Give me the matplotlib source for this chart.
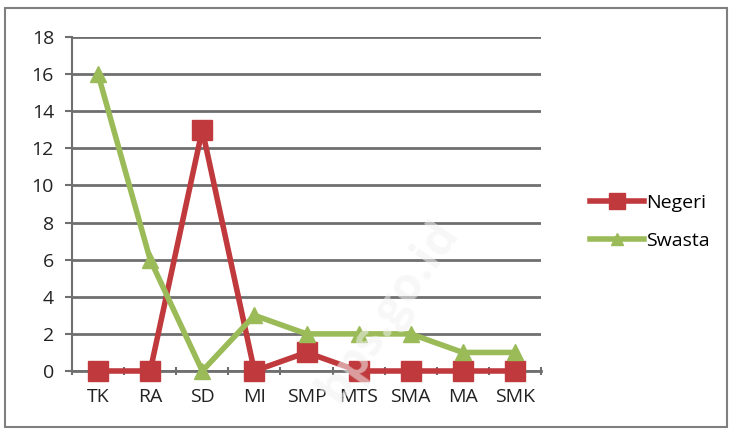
import matplotlib
matplotlib.use("Agg")
import matplotlib.pyplot as plt
from matplotlib.patches import Rectangle
from matplotlib.lines import Line2D

categories = ["TK", "RA", "SD", "MI", "SMP", "MTS", "SMA", "MA", "SMK"]
negeri = [0, 0, 13, 0, 1, 0, 0, 0, 0]
swasta = [16, 6, 0, 3, 2, 2, 2, 1, 1]
yticks = [0, 2, 4, 6, 8, 10, 12, 14, 16, 18]

plt.rcParams['font.family'] = ['Open Sans', 'DejaVu Sans']

fig = plt.figure(figsize=(7.32, 4.32), dpi=100)
fig.patches.append(Rectangle((5/732, 5/432), 722/732, 419/432, transform=fig.transFigure,
                             fill=False, edgecolor='#7f7f7f', linewidth=1.5))
ax = fig.add_axes([72/732, 1-371/432, (541-72)/732, (371-37)/432])

red = '#C0393C'
green = '#9BBB59'
x = list(range(len(categories)))
ax.plot(x, negeri, color=red, lw=4, marker='s', ms=15, zorder=3, clip_on=False)
ax.plot(x, swasta, color=green, lw=4, marker='^', ms=12, zorder=4, clip_on=False)

ax.set_xlim(-0.5, len(categories)-0.5)
ax.set_ylim(0, 18)
ax.set_yticks(yticks)
ax.set_yticklabels([str(v) for v in yticks], fontsize=14)
ax.yaxis.grid(True, color='#6f6f6f', lw=2)
ax.set_axisbelow(True)
ax.set_xticks(x)
ax.set_xticklabels(categories, fontsize=14)
ax.tick_params(axis='x', length=0, pad=12)
ax.set_xticks([i-0.5 for i in range(len(categories)+1)], minor=True)
ax.tick_params(axis='x', which='minor', length=6, direction='inout', color='#6f6f6f', width=1.5)
ax.tick_params(axis='y', length=5, color='#6f6f6f', width=1.5, pad=8)
for s in ['top', 'right']:
    ax.spines[s].set_visible(False)
ax.spines['left'].set_color('#6f6f6f')
ax.spines['left'].set_linewidth(1.5)
ax.spines['bottom'].set_color('#6f6f6f')
ax.spines['bottom'].set_linewidth(2)
for lbl in ax.get_xticklabels() + ax.get_yticklabels():
    lbl.set_color('#222222')

handles = [Line2D([], [], color=red, lw=4, marker='s', ms=11),
           Line2D([], [], color=green, lw=4, marker='^', ms=9)]
fig.legend(handles, ["Negeri", "Swasta"], loc='center left', bbox_to_anchor=(572/732, 1-222/432),
           frameon=False, fontsize=14, handlelength=2.8, handletextpad=0.1, labelspacing=1.0)

fig.text(0.53, 0.28, "bps.go.id", rotation=55, fontsize=34, color='#f2f2f2', alpha=0.55,
         ha='center', va='center', zorder=10, fontweight='bold')

fig.savefig("out.png", dpi=100)
